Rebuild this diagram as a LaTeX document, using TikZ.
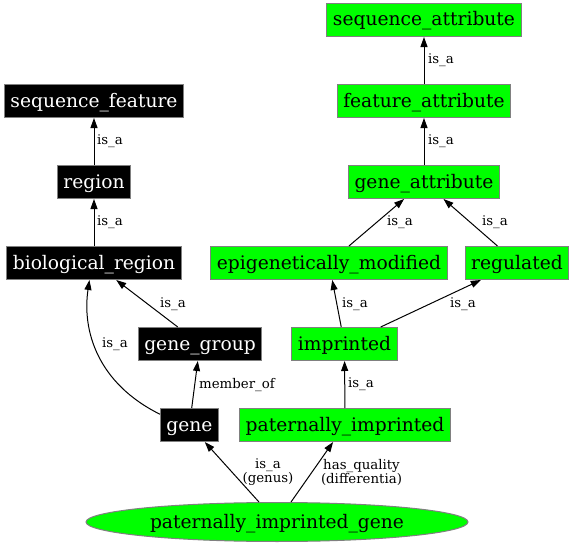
\documentclass[tikz,border=0pt]{standalone}
\usepackage{fontspec}
\setmainfont{DejaVu Serif}
\usetikzlibrary{shapes.geometric,arrows.meta}

\begin{document}
\begin{tikzpicture}[x=0.75pt,y=-0.75pt,
	term/.style={rectangle,draw=gray,line width=0.75pt,minimum height=24.75pt,inner xsep=4.5pt,inner ysep=0pt,text height=12.5pt,text depth=3.5pt,font=\fontsize{14}{16}\selectfont},
	black term/.style={term,fill=black,text=white},
	green term/.style={term,fill=green},
	rel/.style={font=\fontsize{10}{10.5}\selectfont,align=center,inner sep=0pt},
	link/.style={draw=black,line width=0.75pt,-{Triangle[length=7.5pt,width=5.25pt]}}]
	\useasboundingbox (0,0) rectangle (576,546);
	% ontology terms
	\node[green term] (sequence_attribute) at (424,20) {sequence\_attribute};
	\node[green term] (feature_attribute) at (424,101) {feature\_attribute};
	\node[green term] (gene_attribute) at (424,182) {gene\_attribute};
	\node[black term] (sequence_feature) at (94,101) {sequence\_feature};
	\node[black term] (region) at (94,182) {region};
	\node[black term] (biological_region) at (94,263) {biological\_region};
	\node[green term] (epigenetically_modified) at (329,263) {epigenetically\_modified};
	\node[green term] (regulated) at (517,263) {regulated};
	\node[black term] (gene_group) at (200,344) {gene\_group};
	\node[green term] (imprinted) at (344.5,344) {imprinted};
	\node[black term] (gene) at (189.5,425) {gene};
	\node[green term] (paternally_imprinted) at (345,425) {paternally\_imprinted};
	\node[ellipse,draw=gray,line width=0.75pt,fill=green,minimum width=286.5pt,minimum height=29.25pt,inner sep=0pt,text height=12.5pt,text depth=3.5pt,font=\fontsize{14}{16}\selectfont] (pig) at (277,522) {paternally\_imprinted\_gene};
	% relations
	\draw[link] (feature_attribute) -- (sequence_attribute);
	\draw[link] (gene_attribute) -- (feature_attribute);
	\draw[link] (region) -- (sequence_feature);
	\draw[link] (biological_region) -- (region);
	\draw[link] (epigenetically_modified) -- (gene_attribute);
	\draw[link] (regulated) -- (gene_attribute);
	\draw[link] (imprinted) -- (epigenetically_modified);
	\draw[link] (imprinted) -- (regulated);
	\draw[link] (paternally_imprinted) -- (imprinted);
	\draw[link] (gene_group) -- (biological_region);
	\draw[link] (gene) -- (gene_group);
	\draw[link] (gene.160) .. controls (97,383) and (82,330) .. (biological_region.255);
	\draw[link] (pig) -- (gene);
	\draw[link] (pig) -- (paternally_imprinted);
	% relation labels
	\node[rel] (l_sa) at (441,60) {is\_a};
	\node[rel] (l_fa) at (441,141) {is\_a};
	\node[rel] (l_sf) at (110,141) {is\_a};
	\node[rel] (l_re) at (110,222) {is\_a};
	\node[rel] (l_em) at (400,222) {is\_a};
	\node[rel] (l_rg) at (495,222) {is\_a};
	\node[rel] (l_gg) at (173,304) {is\_a};
	\node[rel] (l_im) at (355,304) {is\_a};
	\node[rel] (l_ir) at (463,304) {is\_a};
	\node[rel] (l_ge) at (115,344) {is\_a};
	\node[rel] (l_mo) at (237,385) {member\_of};
	\node[rel] (l_pi) at (361,384) {is\_a};
	\node[rel] (l_genus) at (268,472) {is\_a\\(genus)};
	\node[rel] (l_diff) at (361.5,472) {has\_quality\\(differentia)};
\end{tikzpicture}
\end{document}
